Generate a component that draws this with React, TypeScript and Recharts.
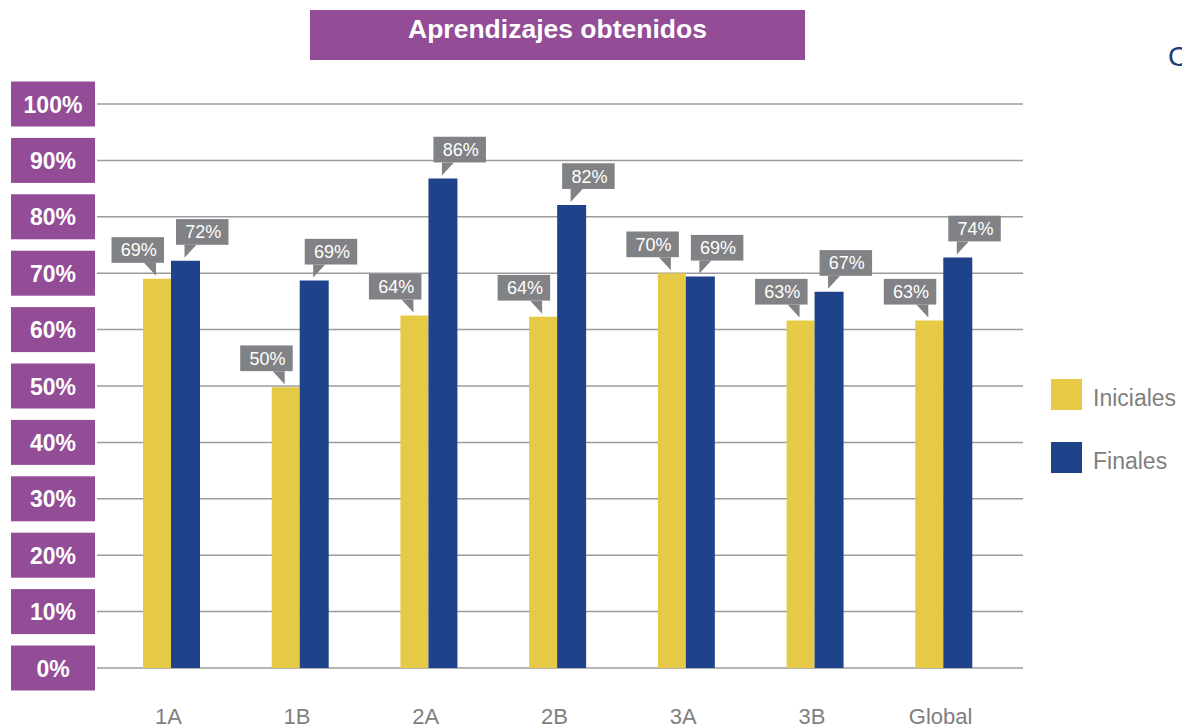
import React from 'react';
import { BarChart, Bar, XAxis, YAxis, CartesianGrid, LabelList } from 'recharts';

const categories = ['1A', '1B', '2A', '2B', '3A', '3B', 'Global'];
const inicialesValues = [69, 49.8, 62.5, 62.3, 70, 61.6, 61.6];
const finalesValues = [72.2, 68.7, 86.8, 82.1, 69.4, 66.7, 72.8];
const inicialesLabels = [69, 50, 64, 64, 70, 63, 63];
const finalesLabels = [72, 69, 86, 82, 69, 67, 74];
const yTicks = [0, 10, 20, 30, 40, 50, 60, 70, 80, 90, 100];
const seriesNames = ['Iniciales', 'Finales'];
const titleText = 'Aprendizajes obtenidos';

const PURPLE = '#934C96';
const YELLOW = '#E6C944';
const BLUE = '#1F438B';
const CALLOUT = '#818285';
const TEXT_GRAY = '#7f7f7f';
const FONT = '"Liberation Sans", Arial, Helvetica, sans-serif';
const seriesColors = [YELLOW, BLUE];

const data = categories.map((c, i) => ({
  name: c,
  ini: inicialesValues[i],
  fin: finalesValues[i],
  iniLabel: inicialesLabels[i],
  finLabel: finalesLabels[i],
}));

const makeCallout = (side: 'left' | 'right') => (props: any) => {
  const { x, y, width, value } = props;
  if (value === undefined || value === null) return null;
  const cx = Number(x) + Number(width) / 2;
  const tip = Number(y) - 3;
  const bb = tip - 13;
  const bh = 25.7;
  const bw = 52.5;
  const bx = side === 'left' ? cx - 45.5 : cx - 9.5;
  const pts =
    side === 'left'
      ? `${cx - 13},${bb} ${cx - 1},${bb} ${cx - 1},${tip}`
      : `${cx - 1},${bb} ${cx + 11},${bb} ${cx - 1},${tip}`;
  return (
    <g>
      <rect x={bx} y={bb - bh} width={bw} height={bh} fill={CALLOUT} />
      <polygon points={pts} fill={CALLOUT} />
      <text
        x={bx + bw / 2 + 1}
        y={bb - bh / 2 + 6.5}
        textAnchor="middle"
        fill="#ffffff"
        fontSize={18}
        fontFamily={FONT}
      >
        {`${value}%`}
      </text>
    </g>
  );
};

const YTick = (props: any) => {
  const { y, payload } = props;
  return (
    <g>
      <rect x={11} y={y - 22.5} width={84} height={45} fill={PURPLE} />
      <text
        x={53}
        y={y + 8.5}
        textAnchor="middle"
        fill="#ffffff"
        fontSize={23}
        fontWeight="bold"
        fontFamily={FONT}
      >
        {`${payload.value}%`}
      </text>
    </g>
  );
};

const XTick = (props: any) => {
  const { x, payload } = props;
  return (
    <text x={x - 3} y={724} textAnchor="middle" fill={TEXT_GRAY} fontSize={22} fontFamily={FONT}>
      {payload.value}
    </text>
  );
};

export default function App() {
  return (
    <div
      style={{
        position: 'absolute',
        left: 0,
        top: 0,
        width: 1182,
        height: 728,
        overflow: 'hidden',
        background: '#ffffff',
        fontFamily: FONT,
      }}
    >
      <div style={{ position: 'absolute', left: 0, top: 0 }}>
        <BarChart
          width={1182}
          height={728}
          data={data}
          margin={{ top: 104, right: 159, bottom: 0, left: 0 }}
          barGap={0}
          barCategoryGap={0}
        >
          <CartesianGrid horizontal={true} vertical={false} stroke="#9c9c9c" strokeWidth={1.5} />
          <XAxis
            dataKey="name"
            height={60}
            axisLine={false}
            tickLine={false}
            padding={{ left: 10, right: 15 }}
            tick={<XTick />}
            interval={0}
          />
          <YAxis
            width={97}
            domain={[0, 100]}
            ticks={yTicks}
            axisLine={false}
            tickLine={false}
            tick={<YTick />}
            interval={0}
          />
          <Bar dataKey="ini" name={seriesNames[0]} fill={YELLOW} barSize={28} isAnimationActive={false}>
            <LabelList dataKey="iniLabel" content={makeCallout('left')} />
          </Bar>
          <Bar dataKey="fin" name={seriesNames[1]} fill={BLUE} barSize={29} isAnimationActive={false}>
            <LabelList dataKey="finLabel" content={makeCallout('right')} />
          </Bar>
        </BarChart>
      </div>
      <svg
        width={1182}
        height={728}
        style={{ position: 'absolute', left: 0, top: 0, pointerEvents: 'none' }}
      >
        <rect x={310} y={10} width={495} height={50} fill={PURPLE} />
        <text
          x={557.5}
          y={38}
          textAnchor="middle"
          fill="#ffffff"
          fontSize={26.5}
          fontWeight="bold"
          fontFamily={FONT}
        >
          {titleText}
        </text>
        <text x={1168} y={66} fill="#213d78" fontSize={28} fontFamily={FONT}>
          C
        </text>
      </svg>
      <div style={{ position: 'absolute', left: 1051, top: 379, fontFamily: FONT }}>
        {seriesNames.map((n, i) => (
          <div key={n} style={{ display: 'flex', alignItems: 'center', height: 31, marginBottom: 32 }}>
            <div style={{ width: 31, height: 31, background: seriesColors[i] }} />
            <span
              style={{
                marginLeft: 11,
                fontSize: 23,
                color: TEXT_GRAY,
                position: 'relative',
                top: 4,
                whiteSpace: 'nowrap',
              }}
            >
              {n}
            </span>
          </div>
        ))}
      </div>
    </div>
  );
}
